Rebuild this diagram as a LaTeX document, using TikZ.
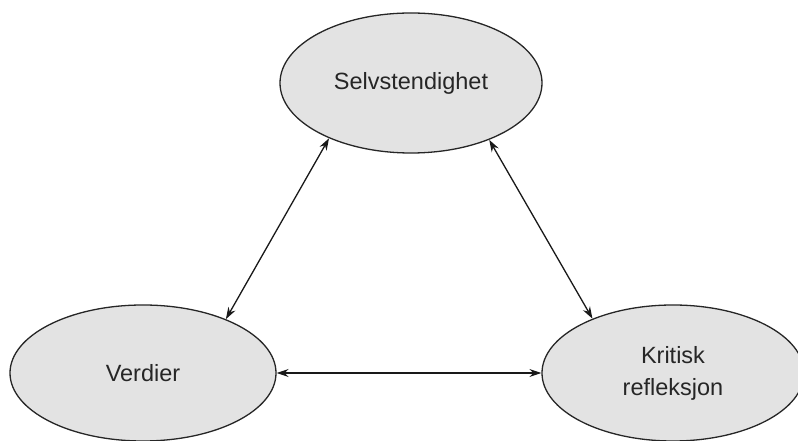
\documentclass[tikz,border=0pt]{standalone}
\usepackage{fontspec}
\setmainfont{Liberation Sans}
\usetikzlibrary{shapes.geometric,arrows.meta}

\begin{document}
\begin{tikzpicture}[x=1pt,y=1pt,>={Stealth[length=12pt,width=8pt]},
  bubble/.style={ellipse,draw=black!85,line width=1.3pt,fill=black!11,inner sep=0pt,
    align=center,text=black!85,font=\fontsize{23.5}{32}\selectfont},
  link/.style={<->,line width=1.3pt,black!90}]
  % frame: 798 by 441
  \useasboundingbox (0,0) rectangle (798,441);
  \clip (0,0) rectangle (798,441);

  % the three ellipses
  \node[bubble,minimum width=262pt,minimum height=140pt] (selv) at (411,358) {Selvstendighet};
  \node[bubble,minimum width=266pt,minimum height=136pt] (verdi) at (143,68) {Verdier};
  \node[bubble,minimum width=262pt,minimum height=136pt] (krit) at (673,68) {Kritisk\\refleksjon};

  % double arrows between them
  \draw[link] (verdi.33) -- (selv.214);
  \draw[link] (selv.324) -- (krit.146);
  \draw[link] (verdi.east) -- (krit.west);
\end{tikzpicture}
\end{document}
